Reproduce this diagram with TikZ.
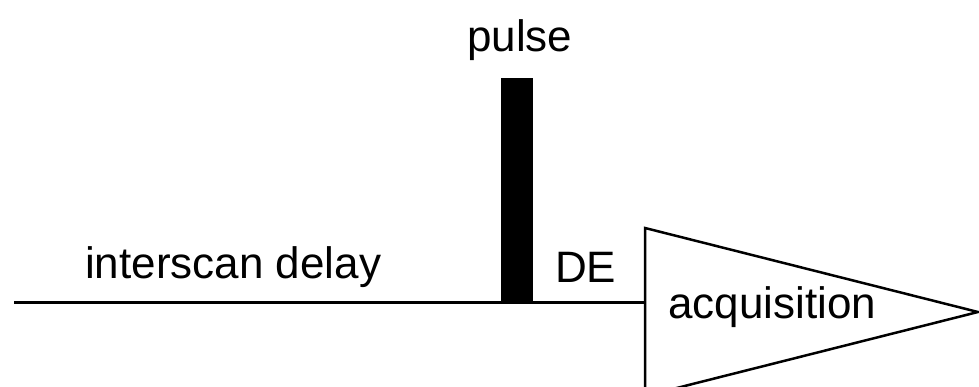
\documentclass[tikz,border=0pt]{standalone}
\usepackage{fontspec}
\setmainfont{Liberation Sans}
\begin{document}
\begin{tikzpicture}[x=1pt,y=-1pt,
  lbl/.style={inner sep=0pt,anchor=base west,font=\fontsize{44}{48}\selectfont},
  seqline/.style={line width=3pt},
  acqbox/.style={line width=2.5pt,line join=miter}]
\useasboundingbox (0,0) rectangle (979,387);
\clip (0,0) rectangle (979,387);
\coordinate (start) at (14,302);
\coordinate (acqL) at (645,302);
\draw[seqline] (start) -- (acqL);
\fill (501,78) rectangle (533,303);
\node (pulsebar) at (517,190) {};
\draw[acqbox] (645,228) -- (978,312) -- (645,396) -- cycle;
\node[lbl] (pulse) at (467,52) {pulse};
\node[lbl] (isd) at (85,278) {interscan delay};
\node[lbl] (de) at (555,282) {DE};
\node[lbl] (acq) at (668,318) {acquisition};
\end{tikzpicture}
\end{document}
